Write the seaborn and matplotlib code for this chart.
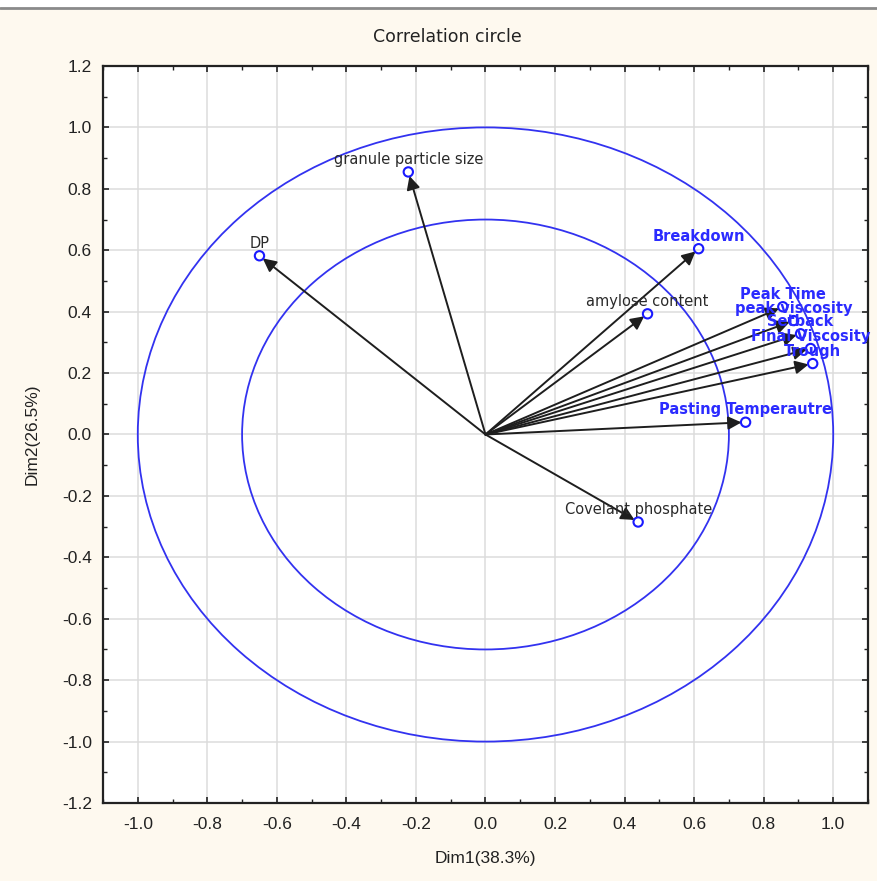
import numpy as np
import pandas as pd
import seaborn as sns
import matplotlib
matplotlib.use("Agg")
import matplotlib.pyplot as plt
from matplotlib.patches import Circle, Rectangle
from matplotlib.lines import Line2D
from matplotlib.ticker import MultipleLocator

# ---- data ----
variables = ["DP", "granule particle size", "Breakdown", "amylose content",
             "Peak Time", "peak viscosity", "Setback", "Final Viscosity",
             "Trough", "Pasting Temperautre", "Covelant phosphate"]
dim1 = [-0.650, -0.222, 0.613, 0.466, 0.855, 0.886, 0.906, 0.935, 0.941, 0.748, 0.439]
dim2 = [0.582, 0.855, 0.605, 0.393, 0.416, 0.371, 0.328, 0.280, 0.231, 0.040, -0.285]
highlight = [False, False, True, False, True, True, True, True, True, True, False]
circle_radii = [1.0, 0.7]
x_ticks = [-1.0, -0.8, -0.6, -0.4, -0.2, 0.0, 0.2, 0.4, 0.6, 0.8, 1.0]
y_ticks = [-1.2, -1.0, -0.8, -0.6, -0.4, -0.2, 0.0, 0.2, 0.4, 0.6, 0.8, 1.0, 1.2]

df = pd.DataFrame({"var": variables, "Dim1": dim1, "Dim2": dim2, "hl": highlight})

sns.set_theme(style="white")
plt.rcParams["font.family"] = ["Liberation Sans", "DejaVu Sans"]

BG = "#fef9ef"
BLUE = "#2b2bff"

fig = plt.figure(figsize=(8.78, 8.81), dpi=100, facecolor=BG)
ax = fig.add_axes([103/878, 1-803/881, (868-103)/878, (803-66)/881])
ax.set_facecolor("white")

# grid
ax.set_xlim(-1.1, 1.1)
ax.set_ylim(-1.2, 1.2)
ax.set_xticks(x_ticks)
ax.set_yticks(y_ticks)
ax.xaxis.set_minor_locator(MultipleLocator(0.1))
ax.yaxis.set_minor_locator(MultipleLocator(0.1))
ax.grid(True, which="major", color="#dcdcdc", lw=1.1)
ax.set_axisbelow(True)

# circles
for r in circle_radii:
    ax.add_patch(Circle((0, 0), r, fill=False, ec="#3232f0", lw=1.3, zorder=2))

# arrows
for _, row in df.iterrows():
    ax.annotate("", xy=(row.Dim1, row.Dim2), xytext=(0, 0),
                arrowprops=dict(arrowstyle="-|>", color="#1e1e1e", lw=1.4,
                                mutation_scale=20, shrinkA=0, shrinkB=3),
                zorder=3)

# points
sns.scatterplot(data=df, x="Dim1", y="Dim2", ax=ax, s=45, facecolors="none",
                edgecolor="#1a1aff", linewidth=1.5, zorder=4, legend=False)

# labels
for _, row in df.iterrows():
    if row.hl:
        ax.annotate(row["var"], (row.Dim1, row.Dim2), xytext=(0, 9),
                    textcoords="offset points", ha="center", va="center",
                    color=BLUE, fontsize=10.5, fontweight="bold", zorder=5,
                    fontfamily="DejaVu Sans")
    else:
        ax.annotate(row["var"], (row.Dim1, row.Dim2), xytext=(0, 9),
                    textcoords="offset points", ha="center", va="center",
                    color="#2a2a2a", fontsize=10.5, zorder=5,
                    fontfamily="DejaVu Sans")

# spines / ticks
for s in ax.spines.values():
    s.set_visible(True)
    s.set_color("#222222")
    s.set_linewidth(1.6)
ax.tick_params(which="both", direction="in", top=True, right=True,
               bottom=True, left=True, color="#222222")
ax.tick_params(which="major", length=4, width=1.2)
ax.tick_params(which="minor", length=3, width=1.0)
ax.tick_params(axis="x", which="major", pad=10, labelsize=12.5, labelcolor="#222222")
ax.tick_params(axis="y", which="major", pad=8, labelsize=12.5, labelcolor="#222222")
ax.set_xticklabels([f"{v:.1f}" for v in x_ticks])
ax.set_yticklabels([f"{v:.1f}" for v in y_ticks])

ax.set_xlabel("Dim1(38.3%)", fontsize=12.5, color="#222222", labelpad=14)
ax.set_ylabel("Dim2(26.5%)", fontsize=12.5, color="#222222", labelpad=16)

fig.text(447/878, 1-37/881, "Correlation circle", ha="center", va="center",
         fontsize=12.5, color="#222222", fontfamily="DejaVu Sans")

# window top border
fig.patches.append(Rectangle((0, 1-7/881), 1, 7/881, transform=fig.transFigure,
                             color="white", zorder=0))
fig.lines.append(Line2D([0.0, 1.0], [1-8/881, 1-8/881], transform=fig.transFigure,
                        color="#8a8a8a", lw=2))

fig.savefig("out.png", dpi=100, facecolor=BG)
